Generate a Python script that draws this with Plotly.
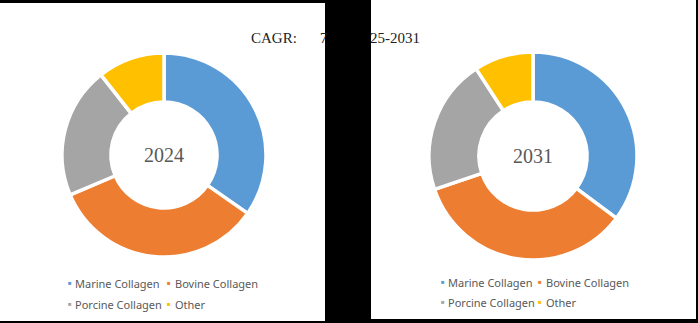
import plotly.graph_objects as go

W, H = 698, 323

labels = ["Marine Collagen", "Bovine Collagen", "Porcine Collagen", "Other"]
share_2024 = [34.7, 33.9, 20.8, 10.6]
share_2031 = [35.2, 34.6, 21.0, 9.2]
years = ["2024", "2031"]
colors = ["#5B9BD5", "#ED7D31", "#A5A5A5", "#FFC000"]
cagr_left = "CAGR:"
cagr_mid = "7"
cagr_right = "25-2031"

# pixel layout helpers (top-left origin)
def px(x):
    return x / W

def py(y):
    return 1 - y / H

pies = [
    dict(values=share_2024, year=years[0], cx=164, cy=155, r=102,
         leg_x=[70, 169], leg_tx=[75, 175], leg_y=[283, 304]),
    dict(values=share_2031, year=years[1], cx=533, cy=156, r=104,
         leg_x=[443, 540], leg_tx=[448, 546], leg_y=[282, 302]),
]

fig = go.Figure()
annotations = []
shapes = [
    dict(type="rect", xref="paper", yref="paper", x0=px(0), x1=px(325), y0=py(321), y1=py(3),
         fillcolor="white", line=dict(width=0), layer="below"),
    dict(type="rect", xref="paper", yref="paper", x0=px(371), x1=px(696), y0=py(319), y1=py(0),
         fillcolor="white", line=dict(width=0), layer="below"),
]

for p in pies:
    fig.add_trace(go.Pie(
        labels=labels, values=p["values"], hole=0.52, sort=False,
        direction="clockwise", rotation=0,
        marker=dict(colors=colors, line=dict(color="white", width=3.5)),
        textinfo="none", hoverinfo="label+percent", showlegend=False,
        domain=dict(x=[px(p["cx"] - p["r"]), px(p["cx"] + p["r"])],
                    y=[py(p["cy"] + p["r"]), py(p["cy"] - p["r"])]),
    ))
    annotations.append(dict(
        x=px(p["cx"]), y=py(p["cy"]), xref="paper", yref="paper", text=p["year"],
        showarrow=False, font=dict(family="Liberation Serif", size=20, color="#595959"),
        xanchor="center", yanchor="middle"))
    for i, lab in enumerate(labels):
        col, row = i % 2, i // 2
        annotations.append(dict(
            x=px(p["leg_x"][col]), y=py(p["leg_y"][row]), xref="paper", yref="paper",
            text="■", showarrow=False, font=dict(size=6, color=colors[i]),
            xanchor="center", yanchor="middle"))
        annotations.append(dict(
            x=px(p["leg_tx"][col]), y=py(p["leg_y"][row]), xref="paper", yref="paper",
            text=lab, showarrow=False, font=dict(family="Noto Sans", size=11, color="#595959"),
            xanchor="left", yanchor="middle", xshift=-2))

for txt, x in [(cagr_left, 251), (cagr_mid, 320), (cagr_right, 370)]:
    annotations.append(dict(
        x=px(x), y=py(38), xref="paper", yref="paper", text=txt, showarrow=False,
        font=dict(family="Liberation Serif", size=15, color="#222222"),
        xanchor="left", yanchor="middle", xshift=-2))

fig.update_layout(
    width=W, height=H, margin=dict(l=0, r=0, t=0, b=0),
    paper_bgcolor="black", plot_bgcolor="black",
    shapes=shapes, annotations=annotations,
)

fig.write_html("out.html")
